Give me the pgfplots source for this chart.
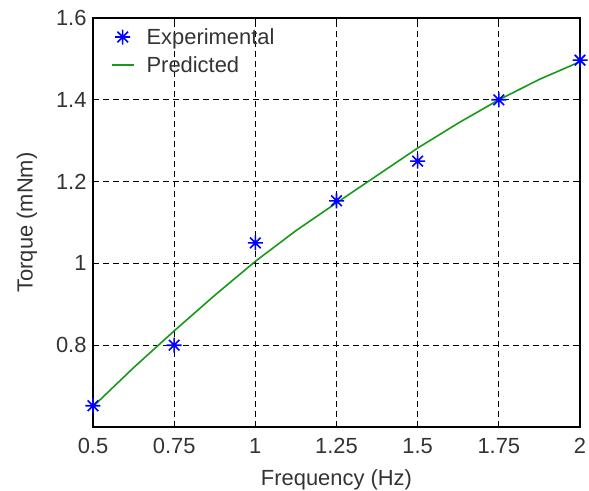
\documentclass[border=0pt]{standalone}
\usepackage{pgfplots}
\pgfplotsset{compat=1.18}
\usetikzlibrary{calc}
\usepackage{fontspec}
\setmainfont{Liberation Sans}
\definecolor{mgreen}{rgb}{0.1,0.6,0.1}
\definecolor{labgray}{gray}{0.2}
\pgfdeclareplotmark{mstar}{%
  \pgfpathmoveto{\pgfqpoint{-\pgfplotmarksize}{0pt}}\pgfpathlineto{\pgfqpoint{\pgfplotmarksize}{0pt}}%
  \pgfpathmoveto{\pgfqpoint{0pt}{-\pgfplotmarksize}}\pgfpathlineto{\pgfqpoint{0pt}{\pgfplotmarksize}}%
  \pgfpathmoveto{\pgfqpoint{-0.707\pgfplotmarksize}{-0.707\pgfplotmarksize}}\pgfpathlineto{\pgfqpoint{0.707\pgfplotmarksize}{0.707\pgfplotmarksize}}%
  \pgfpathmoveto{\pgfqpoint{-0.707\pgfplotmarksize}{0.707\pgfplotmarksize}}\pgfpathlineto{\pgfqpoint{0.707\pgfplotmarksize}{-0.707\pgfplotmarksize}}%
  \pgfusepathqstroke}
\pgfplotsset{legend image code/.code={\draw[mark repeat=2,mark phase=2,#1] plot coordinates {(0bp,0bp) (11bp,0bp) (22bp,0bp)};}}
\begin{document}
\begin{tikzpicture}
\begin{axis}[
  scale only axis,
  width=487bp, height=409bp,
  xmin=0.5, xmax=2, ymin=0.6, ymax=1.6,
  xtick={0.5,0.75,1,1.25,1.5,1.75,2},
  xticklabels={0.5,0.75,1,1.25,1.5,1.75,2},
  ytick={0.8,1,1.2,1.4,1.6},
  yticklabels={0.8,1,1.2,1.4,1.6},
  tick align=inside,
  major tick length=6bp,
  tick style={black, line width=0.8bp},
  grid=major,
  major grid style={black, dashed, line width=1.2bp, dash pattern=on 6bp off 4bp},
  axis line style={black, line width=1.5bp},
  ticklabel style={font=\fontsize{22}{26}\selectfont, text=labgray},
  label style={font=\fontsize{22}{26}\selectfont, text=labgray},
  xticklabel style={yshift=-8bp},
  yticklabel style={xshift=-3bp},
  xlabel={Frequency (Hz)},
  ylabel={Torque (mNm)},
  xlabel style={yshift=-9bp},
  ylabel style={yshift=12bp},
  legend style={draw=none, fill=none, at={(0.03,0.985)}, anchor=north west,
    font=\fontsize{22}{26}\selectfont, row sep=7bp, column sep=10bp},
  legend cell align=left,
]
\addplot[mgreen, line width=1.6bp, forget plot] coordinates {
(0.5,0.650) (0.625,0.745) (0.75,0.835) (0.875,0.922) (1.0,1.005) (1.125,1.080)
(1.25,1.148) (1.375,1.215) (1.5,1.282) (1.625,1.343) (1.75,1.400) (1.875,1.450) (2.0,1.493)};
\addplot[only marks, mark=mstar, mark size=7.5bp, blue, line width=1.6bp] coordinates {
(0.5,0.652) (0.75,0.800) (1.0,1.050) (1.25,1.153) (1.5,1.250) (1.75,1.400) (2.0,1.497)};
\addlegendentry{\textcolor{labgray}{Experimental}}
\addlegendimage{draw=mgreen, line width=1.8bp}
\addlegendentry{\textcolor{labgray}{Predicted}}
\coordinate (bl) at (rel axis cs:0,0);
\coordinate (tr) at (rel axis cs:1,1);
\end{axis}
\pgfresetboundingbox
\path ($(bl)+(-93bp,-64bp)$) rectangle ($(tr)+(9bp,18bp)$);
\end{tikzpicture}
\end{document}
